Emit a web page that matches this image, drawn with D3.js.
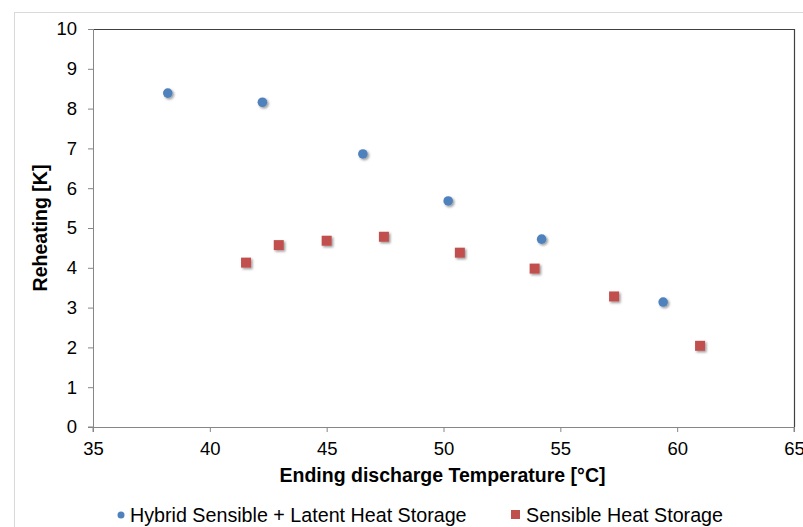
<!DOCTYPE html>
<html>
<head>
<meta charset="utf-8">
<script src="https://cdn.jsdelivr.net/npm/d3@7"></script>
<style>
  body { margin: 0; background: #fff; }
  text { font-family: "Liberation Sans", Arial, sans-serif; fill: #000; }
</style>
</head>
<body>
<div id="chart"></div>
<script>
var hybridX = [38.2, 42.25, 46.55, 50.2, 54.2, 59.4]
var hybridY = [8.39, 8.16, 6.86, 5.68, 4.72, 3.14]
var sensibleX = [41.55, 42.95, 45.0, 47.45, 50.7, 53.9, 57.3, 60.98]
var sensibleY = [4.13, 4.57, 4.68, 4.78, 4.38, 3.98, 3.28, 2.04]
var xTicks = [35, 40, 45, 50, 55, 60, 65]
var yTicks = [0, 1, 2, 3, 4, 5, 6, 7, 8, 9, 10]
var seriesNames = ["Hybrid Sensible + Latent Heat Storage", "Sensible Heat Storage"]

var W = 803, H = 527
var margin = { top: 29, right: 9, bottom: 100, left: 93 },
  width = W - margin.left - margin.right,
  height = H - margin.top - margin.bottom

var root = d3.select("#chart").append("svg")
  .attr("width", W).attr("height", H)

var defs = root.append("defs")
var f = defs.append("filter").attr("id", "shadow")
  .attr("x", "-50%").attr("y", "-50%").attr("width", "200%").attr("height", "200%")
f.append("feDropShadow").attr("dx", 1.5).attr("dy", 1.5)
  .attr("stdDeviation", 1.2).attr("flood-color", "#000").attr("flood-opacity", 0.4)

// outer chart frame
root.append("rect")
  .attr("x", 14.5).attr("y", 12.5)
  .attr("width", W).attr("height", H)
  .attr("fill", "none").attr("stroke", "#d9d9d9")

var svg = root.append("g")
  .attr("transform", "translate(" + margin.left + "," + margin.top + ")")

var x = d3.scaleLinear().domain([35, 65]).range([0, width])
var y = d3.scaleLinear().domain([0, 10]).range([height, 0])

// plot area border (top/right darker)
svg.append("path")
  .attr("d", "M0.5,0.5H" + (width + 0.5) + "V" + height)
  .attr("fill", "none").attr("stroke", "#404040").attr("stroke-width", 1.2)

var xAxis = svg.append("g")
  .attr("transform", "translate(0," + height + ")")
  .call(d3.axisBottom(x).tickValues(xTicks).tickSize(5).tickPadding(10))
var yAxis = svg.append("g")
  .call(d3.axisLeft(y).tickValues(yTicks).tickSize(5).tickPadding(11))

;[xAxis, yAxis].forEach(function(a) {
  a.attr("font-size", null).attr("font-family", null)
  a.select(".domain").attr("stroke", "#868686")
  a.selectAll(".tick line").attr("stroke", "#868686")
  a.selectAll(".tick text").style("font-size", "18.5px")
})
xAxis.select(".domain").attr("d", "M0,5V0.5H" + width + "V5")
yAxis.select(".domain").attr("d", "M-5,0.5H0.5V" + height + "H-5")

// axis titles
svg.append("text")
  .attr("x", width / 2 - 1).attr("y", height + 55)
  .attr("text-anchor", "middle")
  .style("font-size", "19.5px").style("font-weight", "bold")
  .text("Ending discharge Temperature [°C]")
svg.append("text")
  .attr("transform", "translate(-46," + (height / 2) + ") rotate(-90)")
  .attr("text-anchor", "middle")
  .style("font-size", "19.5px").style("font-weight", "bold")
  .text("Reheating [K]")

// points
var hybrid = hybridX.map(function(v, i) { return { x: v, y: hybridY[i] } })
var sensible = sensibleX.map(function(v, i) { return { x: v, y: sensibleY[i] } })

svg.append("g").selectAll("rect")
  .data(sensible).enter().append("rect")
  .attr("x", function(d) { return x(d.x) - 5 })
  .attr("y", function(d) { return y(d.y) - 5 })
  .attr("width", 10).attr("height", 10)
  .attr("fill", "#c0504d")
  .attr("filter", "url(#shadow)")

svg.append("g").selectAll("circle")
  .data(hybrid).enter().append("circle")
  .attr("cx", function(d) { return x(d.x) })
  .attr("cy", function(d) { return y(d.y) })
  .attr("r", 4.8)
  .attr("fill", "#4f81bd")
  .attr("filter", "url(#shadow)")

// legend
var lg = root.append("g")
lg.append("circle").attr("cx", 121).attr("cy", 515).attr("r", 3.5).attr("fill", "#4f81bd")
lg.append("text").attr("x", 130).attr("y", 522).style("font-size", "19.7px").text(seriesNames[0])
lg.append("rect").attr("x", 511).attr("y", 510).attr("width", 9).attr("height", 9).attr("fill", "#c0504d")
lg.append("text").attr("x", 526).attr("y", 522).style("font-size", "19.7px").text(seriesNames[1])
</script>
</body>
</html>
